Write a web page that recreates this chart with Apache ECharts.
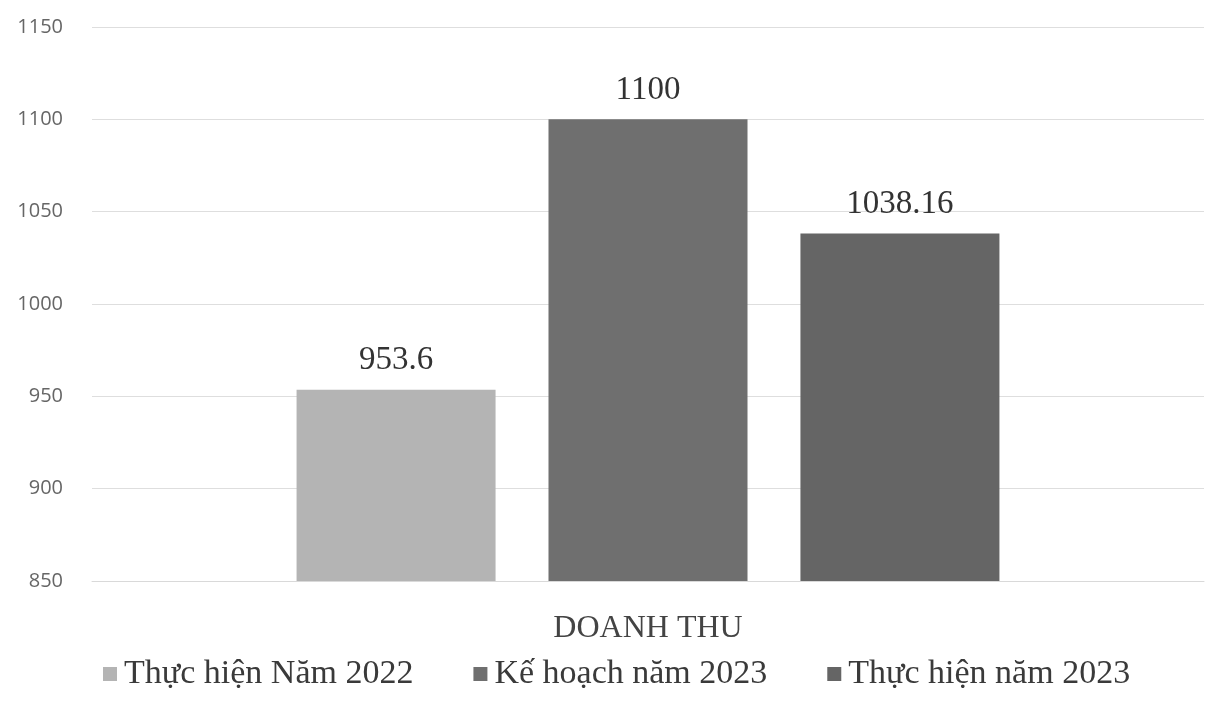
<!DOCTYPE html>
<html>
<head>
<meta charset="utf-8">
<script src="https://cdn.jsdelivr.net/npm/echarts@6/dist/echarts.min.js"></script>
<style>html,body{margin:0;padding:0;background:#fff;}#c{width:1208px;height:706px;}</style>
</head>
<body>
<div id="c"></div>
<script>
const categories = ['DOANH THU'];
const seriesNames = ['Thực hiện Năm 2022', 'Kế hoạch năm 2023', 'Thực hiện năm 2023'];
const seriesValues = [[953.6], [1100], [1038.16]];
const seriesColors = ['#b4b4b4', '#6f6f6f', '#656565'];
const yMin = 850, yMax = 1150, yStep = 50;

const chart = echarts.init(document.getElementById('c'));
chart.setOption({
  animation: false,
  backgroundColor: '#fff',
  grid: { left: 92, right: 4, top: 27, bottom: 125, containLabel: false },
  legend: {
    top: 652,
    left: 98,
    itemWidth: 14, itemHeight: 14, itemGap: 60,
    icon: 'rect',
    textStyle: { fontFamily: 'Liberation Serif', fontSize: 34, color: '#3a3a3a', padding: [0, 0, 0, 2] },
    data: seriesNames
  },
  xAxis: {
    type: 'category',
    data: categories,
    axisLine: { lineStyle: { color: '#d9d9d9' } },
    axisTick: { show: false },
    axisLabel: { fontFamily: 'Liberation Serif', fontSize: 32, color: '#444', margin: 32 }
  },
  yAxis: {
    type: 'value',
    min: yMin, max: yMax, interval: yStep,
    axisLine: { show: false },
    axisTick: { show: false },
    splitLine: { lineStyle: { color: '#dedede' } },
    axisLabel: { fontFamily: 'Open Sans', fontSize: 20, color: '#666', margin: 29, formatter: v => String(v) }
  },
  series: seriesNames.map((n, i) => ({
    name: n,
    type: 'bar',
    data: seriesValues[i],
    barWidth: 199,
    barGap: '26.6%',
    itemStyle: { color: seriesColors[i] },
    label: {
      show: true, position: 'top', distance: 13,
      fontFamily: 'Liberation Serif', fontSize: 33, color: '#333'
    }
  }))
});
</script>
</body>
</html>
